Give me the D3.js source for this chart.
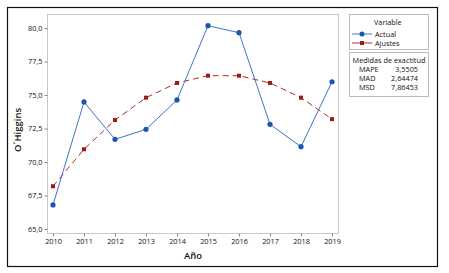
<!DOCTYPE html>
<html lang="es">
<head>
<meta charset="utf-8">
<script src="https://cdn.jsdelivr.net/npm/d3@7"></script>
<style>
  body { margin: 0; background: #fff; }
  text { font-family: "Open Sans", sans-serif; fill: #111; }
  .axis text { font-size: 7.3px; }
  .axis path, .axis line { stroke: #888; }
</style>
</head>
<body>
<div id="chart"></div>
<script>
var years = [2010, 2011, 2012, 2013, 2014, 2015, 2016, 2017, 2018, 2019];
var actual = [66.8, 74.48, 71.69, 72.44, 74.63, 80.17, 79.65, 72.81, 71.14, 75.99];
var ajustes = [68.19, 70.95, 73.13, 74.8, 75.9, 76.44, 76.44, 75.9, 74.8, 73.2];
var yTicks = [65, 67.5, 70, 72.5, 75, 77.5, 80];
var medidas = [["MAPE", "3,5505"], ["MAD", "2,64474"], ["MSD", "7,86453"]];

var W = 449, H = 273;
var svg = d3.select("#chart").append("svg").attr("width", W).attr("height", H);

// outer frame
svg.append("rect").attr("x", 7.5).attr("y", 7.5).attr("width", 430).attr("height", 259)
   .attr("fill", "none").attr("stroke", "#111").attr("stroke-width", 1.2);

var plot = {left: 47, top: 14, right: 338, bottom: 233};

var x = d3.scaleLinear().domain([2010, 2019]).range([53, 332]);
var y = d3.scaleLinear().domain([65, 80]).range([229, 28]);

svg.append("rect").attr("x", plot.left + 0.5).attr("y", plot.top + 0.5)
   .attr("width", plot.right - plot.left).attr("height", plot.bottom - plot.top)
   .attr("fill", "none").attr("stroke", "#c8c8c8");

var fmt = function(d) { return d3.format(".1f")(d).replace(".", ","); };

svg.append("g").attr("class", "axis")
   .attr("transform", "translate(" + (plot.left + 0.5) + ",0)")
   .call(d3.axisLeft(y).tickValues(yTicks).tickFormat(fmt).tickSize(3).tickPadding(2))
   .call(function(g) { g.select(".domain").remove(); });

svg.append("g").attr("class", "axis")
   .attr("transform", "translate(0," + (plot.bottom + 0.5) + ")")
   .call(d3.axisBottom(x).tickValues(years).tickFormat(d3.format("d")).tickSize(3).tickPadding(2))
   .call(function(g) { g.select(".domain").remove(); });

// axis titles
svg.append("text").attr("transform", "translate(21,130) rotate(-90)")
   .attr("text-anchor", "middle").attr("font-size", 9.5).attr("font-weight", 600).text("O´Higgins");
svg.append("text").attr("x", 193).attr("y", 259)
   .attr("text-anchor", "middle").attr("font-size", 9.5).attr("font-weight", 600).text("Año");

var lineA = d3.line().x(function(d, i) { return x(years[i]); }).y(function(d) { return y(d); });

svg.append("path").datum(ajustes).attr("d", lineA)
   .attr("fill", "none").attr("stroke", "#b02a2a").attr("stroke-width", 1)
   .attr("stroke-dasharray", "6,4");
svg.selectAll(".sq").data(ajustes).enter().append("rect")
   .attr("x", function(d, i) { return x(years[i]) - 2; })
   .attr("y", function(d) { return y(d) - 2; })
   .attr("width", 4).attr("height", 4).attr("fill", "#a01818");

svg.append("path").datum(actual).attr("d", lineA)
   .attr("fill", "none").attr("stroke", "#3f74c9").attr("stroke-width", 1);
svg.selectAll(".dot").data(actual).enter().append("circle")
   .attr("cx", function(d, i) { return x(years[i]); })
   .attr("cy", function(d) { return y(d); })
   .attr("r", 2.6).attr("fill", "#1a56b0");

// legend
var lg = svg.append("g");
lg.append("rect").attr("x", 349.5).attr("y", 14.5).attr("width", 79).attr("height", 35)
  .attr("fill", "#fff").attr("stroke", "#bbb");
lg.append("text").attr("x", 374).attr("y", 25).attr("font-size", 7.3).text("Variable");
var keys = [["Actual", "#3f74c9", "#1a56b0", "circle"], ["Ajustes", "#b02a2a", "#a01818", "rect"]];
keys.forEach(function(k, i) {
  var yy = 34 + i * 9;
  lg.append("line").attr("x1", 352).attr("x2", 372).attr("y1", yy).attr("y2", yy)
    .attr("stroke", k[1]).attr("stroke-width", 1);
  if (k[3] == "circle") {
    lg.append("circle").attr("cx", 362).attr("cy", yy).attr("r", 2.5).attr("fill", k[2]);
  } else {
    lg.append("rect").attr("x", 360).attr("y", yy - 2).attr("width", 4).attr("height", 4).attr("fill", k[2]);
  }
  lg.append("text").attr("x", 375).attr("y", yy + 2.5).attr("font-size", 7.3).text(k[0]);
});

lg.append("rect").attr("x", 349.5).attr("y", 52.5).attr("width", 79).attr("height", 44)
  .attr("fill", "#fff").attr("stroke", "#bbb");
lg.append("text").attr("x", 389).attr("y", 63).attr("text-anchor", "middle")
  .attr("font-size", 7.3).text("Medidas de exactitud");
medidas.forEach(function(m, i) {
  var yy = 72 + i * 9;
  lg.append("text").attr("x", 359).attr("y", yy).attr("font-size", 7.3).text(m[0]);
  lg.append("text").attr("x", 418).attr("y", yy).attr("text-anchor", "end").attr("font-size", 7.3).text(m[1]);
});
</script>
</body>
</html>
